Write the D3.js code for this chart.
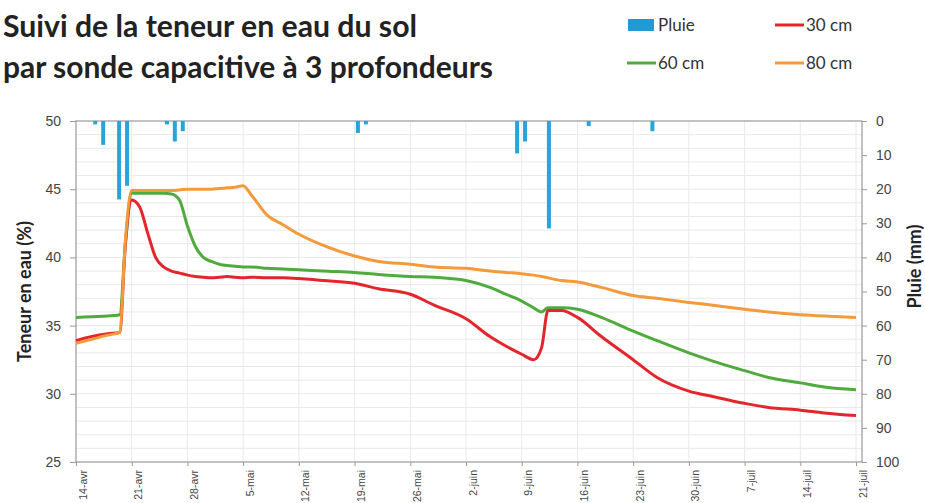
<!DOCTYPE html>
<html>
<head>
<meta charset="utf-8">
<script src="https://cdn.jsdelivr.net/npm/d3@7"></script>
<style>
  body { margin: 0; background: #fff; }
  svg { display: block; font-family: Lato, "Open Sans", sans-serif; }
</style>
</head>
<body>
<div id="chart"></div>
<script>
// mesures de la sonde (dates communes aux trois profondeurs)
const dates = [
  "2014-04-14", "2014-04-16", "2014-04-18", "2014-04-19T12", "2014-04-20T05", "2014-04-21",
  "2014-04-22", "2014-04-23", "2014-04-24", "2014-04-25", "2014-04-26", "2014-04-27",
  "2014-04-28", "2014-04-29", "2014-04-30", "2014-05-01", "2014-05-02", "2014-05-03",
  "2014-05-04", "2014-05-05", "2014-05-06", "2014-05-08", "2014-05-10", "2014-05-12",
  "2014-05-15", "2014-05-19", "2014-05-22", "2014-05-26", "2014-05-29", "2014-06-02",
  "2014-06-05", "2014-06-07", "2014-06-09", "2014-06-10T12", "2014-06-11T12", "2014-06-12T07",
  "2014-06-14", "2014-06-16", "2014-06-19", "2014-06-23", "2014-06-26", "2014-06-30",
  "2014-07-03", "2014-07-07", "2014-07-10", "2014-07-14", "2014-07-17", "2014-07-21"
];
const sonde30 = [
  33.9, 34.2, 34.4, 34.5, 41.0, 44.2,
  43.7, 41.8, 40.0, 39.3, 39.0, 38.85,
  38.7, 38.6, 38.55, 38.5, 38.55, 38.6,
  38.55, 38.5, 38.55, 38.5, 38.5, 38.45,
  38.3, 38.1, 37.7, 37.3, 36.5, 35.5,
  34.2, 33.5, 32.9, 32.5, 33.4, 36.1,
  36.1, 35.6, 34.2, 32.5, 31.2, 30.2,
  29.8, 29.3, 29.0, 28.8, 28.6, 28.4
];
const sonde60 = [
  35.6, 35.65, 35.7, 35.8, 41.0, 44.7,
  44.7, 44.7, 44.7, 44.7, 44.65, 44.2,
  42.3, 40.8, 40.0, 39.7, 39.5, 39.4,
  39.35, 39.3, 39.3, 39.2, 39.15, 39.1,
  39.0, 38.9, 38.75, 38.6, 38.55, 38.3,
  37.8, 37.3, 36.8, 36.3, 36.0, 36.3,
  36.3, 36.2, 35.6, 34.6, 33.9, 33.0,
  32.4, 31.7, 31.2, 30.8, 30.5, 30.3
];
const sonde80 = [
  33.7, 34.0, 34.3, 34.5, 41.3, 44.9,
  44.9, 44.9, 44.9, 44.9, 44.9, 44.95,
  45.0, 45.0, 45.0, 45.0, 45.05, 45.1,
  45.15, 45.25, 44.6, 43.1, 42.4, 41.7,
  40.9, 40.1, 39.7, 39.5, 39.3, 39.2,
  39.0, 38.9, 38.8, 38.7, 38.6, 38.5,
  38.3, 38.2, 37.8, 37.2, 37.0, 36.7,
  36.5, 36.2, 36.0, 35.8, 35.7, 35.6
];

// pluie journaliere (mm)
const rainDates = [
  "2014-04-16", "2014-04-17", "2014-04-19", "2014-04-20", "2014-04-25", "2014-04-26", "2014-04-27",
  "2014-05-19", "2014-05-20", "2014-06-08", "2014-06-09", "2014-06-12", "2014-06-17", "2014-06-25"
];
const rainMm = [1, 7, 23, 19, 1, 6, 3, 3.5, 1, 9.5, 6, 31.5, 1.5, 3];

const weekTicks = [
  "2014-04-14", "2014-04-21", "2014-04-28", "2014-05-05", "2014-05-12", "2014-05-19", "2014-05-26",
  "2014-06-02", "2014-06-09", "2014-06-16", "2014-06-23", "2014-06-30", "2014-07-07", "2014-07-14", "2014-07-21"
];
const weekLabels = [
  "14-avr", "21-avr", "28-avr", "5-mai", "12-mai", "19-mai", "26-mai",
  "2-juin", "9-juin", "16-juin", "23-juin", "30-juin", "7-juil", "14-juil", "21-juil"
];
const teneurTicks = [25, 30, 35, 40, 45, 50];
const pluieTicks = [0, 10, 20, 30, 40, 50, 60, 70, 80, 90, 100];

const SERIES = [
  { name: "60 cm", values: sonde60, color: "#4fab3d" },
  { name: "30 cm", values: sonde30, color: "#e2262c" },
  { name: "80 cm", values: sonde80, color: "#f39b3c" },
];
const RAIN_COLOR = "#27a4d8";
const GRID = "#e9e9e9";
const AXIS = "#9a9a9a";
const TEXT = "#444";

const W = 925, H = 503;
const margin = { top: 121, right: 63, bottom: 41, left: 76 };
const innerW = W - margin.left - margin.right;
const innerH = H - margin.top - margin.bottom;

const parseDay = s => d3.timeParse(s.length > 10 ? "%Y-%m-%dT%H" : "%Y-%m-%d")(s);

const svg = d3.select("#chart").append("svg")
    .attr("width", W).attr("height", H);

const g = svg.append("g").attr("transform", `translate(${margin.left},${margin.top})`);

// domaine un peu au-dela du 21 juillet, comme sur l'original
const xScale = d3.scaleTime()
    .domain([parseDay("2014-04-14"), d3.timeHour.offset(parseDay("2014-07-21"), 18)])
    .range([0, innerW]);
const yScale = d3.scaleLinear().domain([25, 50]).range([innerH, 0]);
const rainScale = d3.scaleLinear().domain([0, 100]).range([0, innerH]);

// grille
g.append("g").selectAll("line")
    .data(d3.range(26, 50))
    .join("line")
    .attr("x1", 0).attr("x2", innerW)
    .attr("y1", d => yScale(d)).attr("y2", d => yScale(d))
    .attr("stroke", GRID).attr("stroke-width", 1);

g.append("g").selectAll("line")
    .data(weekTicks.slice(1))
    .join("line")
    .attr("x1", d => xScale(parseDay(d))).attr("x2", d => xScale(parseDay(d)))
    .attr("y1", 0).attr("y2", innerH)
    .attr("stroke", GRID).attr("stroke-width", 1);

// cadre
g.append("rect")
    .attr("width", innerW).attr("height", innerH)
    .attr("fill", "none").attr("stroke", AXIS).attr("stroke-width", 1.2);

// axes
const styleAxis = sel => {
    sel.select(".domain").remove();
    sel.selectAll(".tick line").attr("stroke", AXIS);
    sel.selectAll("text").attr("fill", TEXT);
};

g.append("g")
    .call(d3.axisLeft(yScale).tickValues(teneurTicks).tickSize(6).tickPadding(9))
    .call(styleAxis)
    .selectAll("text").style("font-size", "14px");

g.append("g")
    .attr("transform", `translate(${innerW},0)`)
    .call(d3.axisRight(rainScale).tickValues(pluieTicks).tickSize(5).tickPadding(9))
    .call(styleAxis)
    .selectAll("text").style("font-size", "14px");

const xAxisG = g.append("g")
    .attr("transform", `translate(0,${innerH})`)
    .call(d3.axisBottom(xScale)
        .tickValues(weekTicks.map(parseDay))
        .tickFormat((d, i) => weekLabels[i])
        .tickSize(4))
    .call(styleAxis);

xAxisG.selectAll("text")
    .style("font-size", "10.5px")
    .attr("text-anchor", "end")
    .attr("dy", null)
    .attr("transform", "translate(10,8) rotate(-90)")
    .attr("x", 0).attr("y", 0);

// pluie : barres suspendues au haut du graphique
const rainData = rainDates.map((d, i) => ({ date: parseDay(d), mm: rainMm[i] }));
g.append("g").selectAll("rect")
    .data(rainData)
    .join("rect")
    .attr("x", d => xScale(d3.timeHour.offset(d.date, 10)) - 2)
    .attr("y", 0)
    .attr("width", 4)
    .attr("height", d => rainScale(d.mm))
    .attr("fill", RAIN_COLOR);

// courbes
const dateObjs = dates.map(parseDay);
const line = d3.line()
    .x((d, i) => xScale(dateObjs[i]))
    .y(d => yScale(d))
    .curve(d3.curveMonotoneX);

g.append("g").selectAll("path")
    .data(SERIES)
    .join("path")
    .attr("d", d => line(d.values))
    .attr("fill", "none")
    .attr("stroke", d => d.color)
    .attr("stroke-width", 3)
    .attr("stroke-linejoin", "round");

// titres d'axes
svg.append("text")
    .attr("transform", `translate(31,${margin.top + innerH / 2}) rotate(-90)`)
    .attr("text-anchor", "middle")
    .style("font-size", "18px").style("font-weight", 700).attr("fill", "#222")
    .text("Teneur en eau (%)");

svg.append("text")
    .attr("transform", `translate(921,${margin.top + innerH / 2 - 25}) rotate(-90)`)
    .attr("text-anchor", "middle")
    .style("font-size", "18px").style("font-weight", 700).attr("fill", "#222")
    .text("Pluie (mm)");

// titre
const title = svg.append("g").attr("fill", "#222")
    .style("font-size", "30px").style("font-weight", 700);
title.append("text").attr("x", 3).attr("y", 37)
    .attr("textLength", 414).attr("lengthAdjust", "spacingAndGlyphs")
    .text("Suivi de la teneur en eau du sol");
title.append("text").attr("x", 3).attr("y", 78)
    .attr("textLength", 490).attr("lengthAdjust", "spacingAndGlyphs")
    .text("par sonde capacitive à 3 profondeurs");

// legende
const legend = svg.append("g").style("font-size", "17px").attr("fill", "#333");
legend.append("rect").attr("x", 628).attr("y", 19).attr("width", 26).attr("height", 12)
    .attr("fill", "#1d9bd7");
legend.append("text").attr("x", 658).attr("y", 31).text("Pluie");

const legendLines = [
    { s: SERIES[1], x: 775, y: 25 },
    { s: SERIES[0], x: 627, y: 63 },
    { s: SERIES[2], x: 775, y: 63 },
];
legendLines.forEach(({ s, x, y }) => {
    legend.append("line")
        .attr("x1", x).attr("x2", x + 29)
        .attr("y1", y).attr("y2", y)
        .attr("stroke", s.color).attr("stroke-width", 3);
    legend.append("text").attr("x", x + 31).attr("y", y + 6).text(s.name);
});
</script>
</body>
</html>
